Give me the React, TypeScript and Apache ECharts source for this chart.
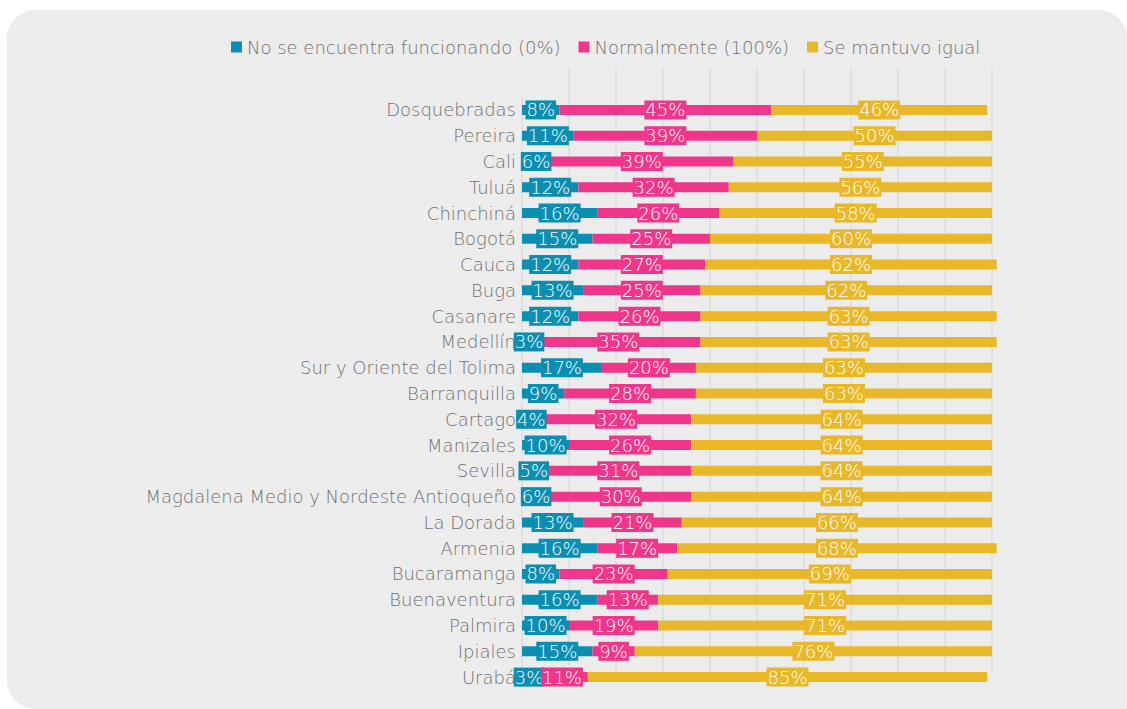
import React, { useEffect, useRef } from "react";
import * as echarts from "echarts";

const categories = [
  "Dosquebradas", "Pereira", "Cali", "Tuluá", "Chinchiná", "Bogotá", "Cauca", "Buga",
  "Casanare", "Medellín", "Sur y Oriente del Tolima", "Barranquilla", "Cartago", "Manizales",
  "Sevilla", "Magdalena Medio y Nordeste Antioqueño", "La Dorada", "Armenia", "Bucaramanga",
  "Buenaventura", "Palmira", "Ipiales", "Urabá",
];
const noFunciona = [8, 11, 6, 12, 16, 15, 12, 13, 12, 3, 17, 9, 4, 10, 5, 6, 13, 16, 8, 16, 10, 15, 3];
const normalmente = [45, 39, 39, 32, 26, 25, 27, 25, 26, 35, 20, 28, 32, 26, 31, 30, 21, 17, 23, 13, 19, 9, 11];
const mantuvo = [46, 50, 55, 56, 58, 60, 62, 62, 63, 63, 63, 63, 64, 64, 64, 64, 66, 68, 69, 71, 71, 76, 85];
const seriesNames = ["No se encuentra funcionando (0%)", "Normalmente (100%)", "Se mantuvo igual"];
const colors = ["#0a8fb3", "#f0368a", "#e8b828"];

const FONT = "'DejaVu Sans', sans-serif";

export default function App() {
  const ref = useRef<HTMLDivElement>(null);
  useEffect(() => {
    if (!ref.current) return;
    const chart = echarts.init(ref.current, null, { renderer: "svg" });
    const values = [noFunciona, normalmente, mantuvo];
    chart.setOption({
      animation: false,
      backgroundColor: "#ffffff",
      graphic: [
        {
          type: "rect",
          z: -10,
          silent: true,
          shape: { x: 7, y: 10, width: 1120, height: 699, r: [28, 28, 0, 28] },
          style: { fill: "#ececec" },
        },
      ],
      legend: {
        left: 226,
        top: 33,
        itemWidth: 11,
        itemHeight: 11,
        itemGap: 18,
        icon: "rect",
        data: seriesNames,
        textStyle: { color: "#707070", fontSize: 18, fontFamily: FONT, fontWeight: 200 },
      },
      grid: [
        { left: 522, right: 135, top: 97, bottom: 19 },
        { left: 522, right: 135, top: 68, bottom: 37 },
      ],
      xAxis: [
        {
          gridIndex: 0,
          type: "value",
          min: 0,
          max: 100,
          interval: 10,
          show: true,
          axisLabel: { show: false },
          axisLine: { show: false },
          axisTick: { show: false },
          splitLine: { show: false },
        },
        {
          gridIndex: 1,
          type: "value",
          min: 0,
          max: 100,
          interval: 10,
          axisLabel: { show: false },
          axisLine: { show: false },
          axisTick: { show: false },
          splitLine: {
            show: true,
            showMinLine: false,
            lineStyle: { color: "#dcdcdc", width: 1.5 },
          },
        },
      ],
      yAxis: [
        {
          gridIndex: 0,
          type: "category",
          data: categories,
          inverse: true,
          axisLine: { show: true, lineStyle: { color: "#dedede", width: 1.5 } },
          axisTick: { show: false },
          axisLabel: {
            color: "#707070",
            fontSize: 18,
            fontFamily: FONT,
            fontWeight: 200,
            margin: 6,
          },
        },
        {
          gridIndex: 1,
          type: "category",
          data: [""],
          show: false,
        },
      ],
      series: values.map((v, i) => ({
        name: seriesNames[i],
        type: "bar",
        stack: "total",
        xAxisIndex: 0,
        yAxisIndex: 0,
        barWidth: 10,
        clip: false,
        itemStyle: { color: colors[i] },
        label: {
          show: true,
          position: "inside",
          formatter: "{c}%",
          color: "#ffffff",
          fontSize: 18,
          fontFamily: FONT,
          fontWeight: 200,
          backgroundColor: colors[i],
          padding: [1, 1, 0, 1],
          lineHeight: 18,
        },
        data: v,
      })),
    });
    return () => chart.dispose();
  }, []);
  return (
    <div
      ref={ref}
      style={{ position: "fixed", left: 0, top: 0, width: 1127, height: 709 }}
    />
  );
}
